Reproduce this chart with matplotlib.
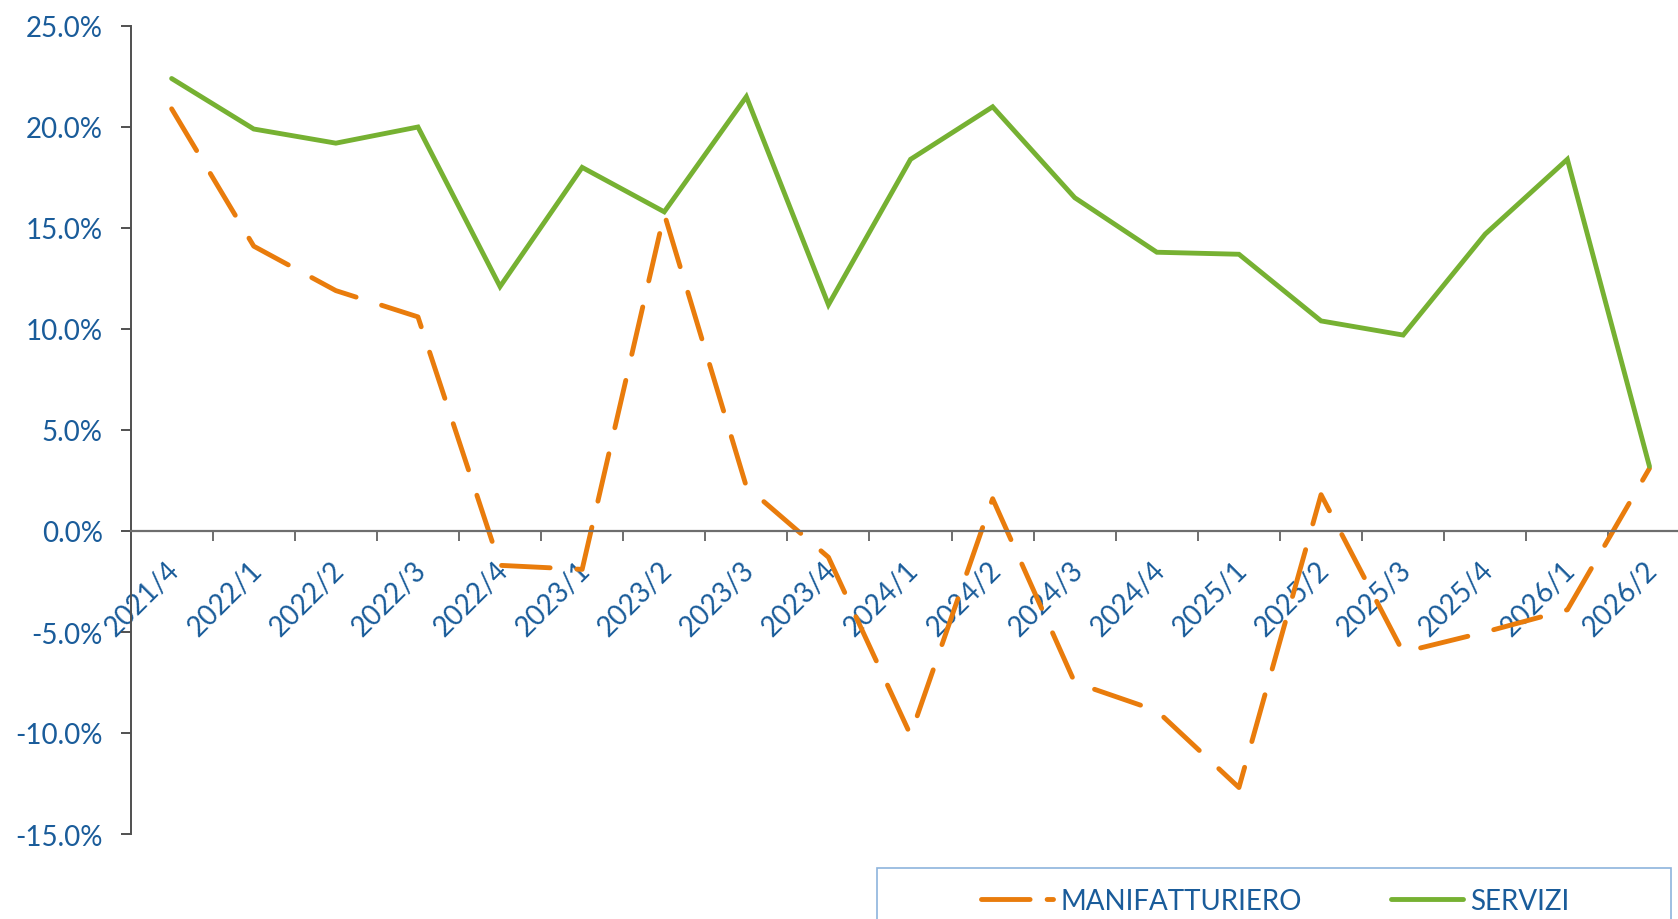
import matplotlib
matplotlib.use('Agg')
import matplotlib.pyplot as plt
import matplotlib.transforms as mtransforms
from matplotlib.lines import Line2D
from matplotlib.patches import Rectangle

from matplotlib import rcParams
rcParams['font.family'] = ['Lato', 'DejaVu Sans']
rcParams['font.size'] = 20

# Quarters on the x axis
quarters = ['2021/4', '2022/1', '2022/2', '2022/3', '2022/4', '2023/1', '2023/2',
            '2023/3', '2023/4', '2024/1', '2024/2', '2024/3', '2024/4', '2025/1',
            '2025/2', '2025/3', '2025/4', '2026/1', '2026/2']

# Values in percent
manifatturiero = [20.9, 14.1, 11.9, 10.6, -1.7, -1.9, 15.7, 2.2, -1.3, -10.1,
                  1.6, -7.5, -8.9, -12.7, 1.8, -6.0, -5.0, -3.9, 3.1]
servizi = [22.4, 19.9, 19.2, 20.0, 12.1, 18.0, 15.8, 21.5, 11.2, 18.4,
           21.0, 16.5, 13.8, 13.7, 10.4, 9.7, 14.7, 18.4, 3.2]

y_ticks = [-15, -10, -5, 0, 5, 10, 15, 20, 25]
y_tick_labels = ['-15.0%', '-10.0%', '-5.0%', '0.0%', '5.0%', '10.0%', '15.0%', '20.0%', '25.0%']

text_color = '#1A5C9A'
orange = '#E97C0C'
green = '#76B132'


def draw_chart():
    fig = plt.figure(figsize=(16.78, 9.2), dpi=100)

    # The plot area runs past the right edge, like the cropped original
    ax = fig.add_axes([130.6 / 1678, 85 / 920, 19 * 82.1 / 1678, 808 / 920])

    x = list(range(len(quarters)))
    ax.plot(x, manifatturiero, color=orange, lw=3.5, dashes=(10, 5.5),
            dash_capstyle='round', solid_capstyle='round', label='MANIFATTURIERO')
    ax.plot(x, servizi, color=green, lw=3.5, solid_capstyle='round',
            solid_joinstyle='miter', label='SERVIZI')

    ax.set_xlim(-0.5, len(quarters) - 0.5)
    ax.set_ylim(-15, 25)

    # Axes styling
    for side in ['top', 'right']:
        ax.spines[side].set_visible(False)
    ax.spines['bottom'].set_position(('data', 0))
    ax.spines['bottom'].set_color('#6E6E6E')
    ax.spines['bottom'].set_linewidth(1.6)
    ax.spines['left'].set_color('#505050')
    ax.spines['left'].set_linewidth(1.4)

    # y axis
    ax.set_yticks(y_ticks)
    ax.set_yticklabels(y_tick_labels, color=text_color)
    ax.tick_params(axis='y', direction='out', length=7, width=1.4, color='#505050', pad=13)

    # x axis: tick marks between categories, labels at the categories
    ax.set_xticks([i + 0.5 for i in range(len(quarters) - 1)])
    ax.set_xticklabels([])
    ax.tick_params(axis='x', which='major', direction='out', length=7, width=1.4, color='#6E6E6E')
    ax.set_xticks(x, minor=True)
    ax.set_xticklabels(quarters, minor=True, rotation=45, ha='right', va='top',
                       rotation_mode='anchor', color=text_color)
    ax.tick_params(axis='x', which='minor', length=0, pad=18)
    offset = mtransforms.ScaledTranslation(-5 / 100, 0, fig.dpi_scale_trans)
    for lbl in ax.get_xticklabels(minor=True):
        lbl.set_transform(lbl.get_transform() + offset)

    # Legend box, cut off by the bottom of the image
    fig.add_artist(Rectangle((877 / 1678, -0.02), (1671 - 877) / 1678, 0.02 + 51 / 920,
                             transform=fig.transFigure, fill=False,
                             edgecolor='#8EB4DD', lw=1.2))
    handles = [Line2D([0], [0], color=orange, lw=3.5, dashes=(10, 3.5), dash_capstyle='round'),
               Line2D([0], [0], color=green, lw=3.5, solid_capstyle='round')]
    leg = fig.legend(handles, ['MANIFATTURIERO', 'SERVIZI'], loc='center',
                     bbox_to_anchor=(1275 / 1678, 1 - 902 / 920), ncol=2, frameon=False,
                     handlelength=2.6, handletextpad=0.25, columnspacing=3.2, fontsize=20)
    for t in leg.get_texts():
        t.set_color(text_color)

    fig.savefig('out.png', dpi=100)


if __name__ == '__main__':
    draw_chart()
